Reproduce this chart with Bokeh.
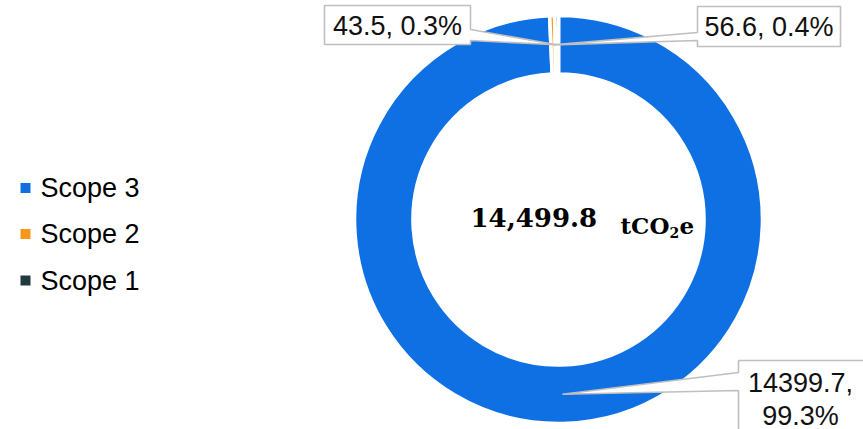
import math
from bokeh.plotting import figure
from bokeh.models import Range1d, ColumnDataSource
from bokeh.core.properties import value
from bokeh.embed import file_html
from bokeh.resources import INLINE

# ---------------- data ----------------
categories = ["Scope 3", "Scope 2", "Scope 1"]
emissions = [14399.7, 56.6, 43.5]
colors = ["#0E70E2", "#F7981D", "#1F3A3F"]
unit_parts = ["tCO", "2", "e"]          # tCO2e, with the 2 as subscript

# ---------------- layout ----------------
W, H = 863, 429
CX, CY = 558, H - 219          # donut centre (data units == pixels, y up)
R_OUT, R_IN = 204, 145.5
LABEL_FONT = "Liberation Sans"
LABEL_SIZE = 27

def Y(ypx):
    return H - ypx

total = sum(emissions)
fracs = [v / total for v in emissions]
cum = [0.0]
for f in fracs:
    cum.append(cum[-1] + f)
start = [math.pi / 2 - 2 * math.pi * c for c in cum[:-1]]
end = [math.pi / 2 - 2 * math.pi * c for c in cum[1:]]

p = figure(width=W, height=H, x_range=Range1d(0, W), y_range=Range1d(0, H),
           output_backend="svg", toolbar_location=None, min_border=0,
           x_axis_type=None, y_axis_type=None, outline_line_color=None,
           background_fill_color="white", border_fill_color="white")
p.grid.visible = False

src = ColumnDataSource(dict(cat=categories, val=emissions, color=colors,
                            start=start, end=end))
p.annular_wedge(x=CX, y=CY, inner_radius=R_IN, outer_radius=R_OUT,
                start_angle="start", end_angle="end", direction="clock",
                fill_color="color", line_color="white", line_width=3.6, source=src)

# ---------------- callout labels ----------------
# box: (left, top, right, bottom) in pixels from top-left; side: where the pointer leaves
callouts = {
    "Scope 3": dict(box=(738, 360, 868, 445), side="left", a=(372, 390), cx=800, lines_y=[382, 415], wrap=True),
    "Scope 2": dict(box=(697, 6, 840, 46), side="left", a=(32, 40), cx=768.5, lines_y=[26.5], wrap=False),
    "Scope 1": dict(box=(324, 5, 470, 44), side="right", a=(29, 40), cx=397, lines_y=[25], wrap=False),
}
r_mid = (R_IN + R_OUT) / 2
for i, cat in enumerate(categories):
    c = callouts[cat]
    mid = (start[i] + end[i]) / 2
    tx, ty = CX + r_mid * math.cos(mid), CY + r_mid * math.sin(mid)
    L, T, Rr, B = c["box"]
    a1, a2 = c["a"]
    if c["side"] == "left":
        xs = [L, Rr, Rr, L, L, tx, L]
        ys = [Y(T), Y(T), Y(B), Y(B), Y(a2), ty, Y(a1)]
    else:
        xs = [L, Rr, Rr, tx, Rr, Rr, L]
        ys = [Y(T), Y(T), Y(a1), ty, Y(a2), Y(B), Y(B)]
    p.patch(xs, ys, fill_color="white", line_color="#BFBFBF", line_width=1.6)
    pct = emissions[i] / total * 100
    if c["wrap"]:
        lines = [f"{emissions[i]},", f"{pct:.1f}%"]
    else:
        lines = [f"{emissions[i]}, {pct:.1f}%"]
    p.text(x=[c["cx"]] * len(lines), y=[Y(v) for v in c["lines_y"]], text=lines,
           text_font=value(LABEL_FONT), text_font_size=f"{LABEL_SIZE}px",
           text_align="center", text_baseline="middle", text_color="#111111")

# ---------------- centre total ----------------
serif = dict(text_font=value("DejaVu Serif"), text_font_style="bold",
             text_align="left", text_baseline="middle", text_color="black")
p.text(x=[470], y=[Y(216.5)], text=[f"{total:,.1f}"], text_font_size="26px", **serif)
p.text(x=[620], y=[Y(225)], text=[unit_parts[0]], text_font_size="23px", **serif)
p.text(x=[669], y=[Y(232)], text=[unit_parts[1]], text_font_size="14px", **serif)
p.text(x=[679], y=[Y(225)], text=[unit_parts[2]], text_font_size="23px", **serif)

# ---------------- legend ----------------
leg_y = [187.5, 233.5, 280]
p.scatter(x=[25] * 3, y=[Y(v) for v in leg_y], marker="square", size=10,
          fill_color=colors, line_color=None)
p.text(x=[40] * 3, y=[Y(v) for v in leg_y], text=categories,
       text_font=value(LABEL_FONT), text_font_size=f"{LABEL_SIZE}px",
       text_align="left", text_baseline="middle", text_color="black")

open("out.html", "w").write(file_html(p, INLINE))
